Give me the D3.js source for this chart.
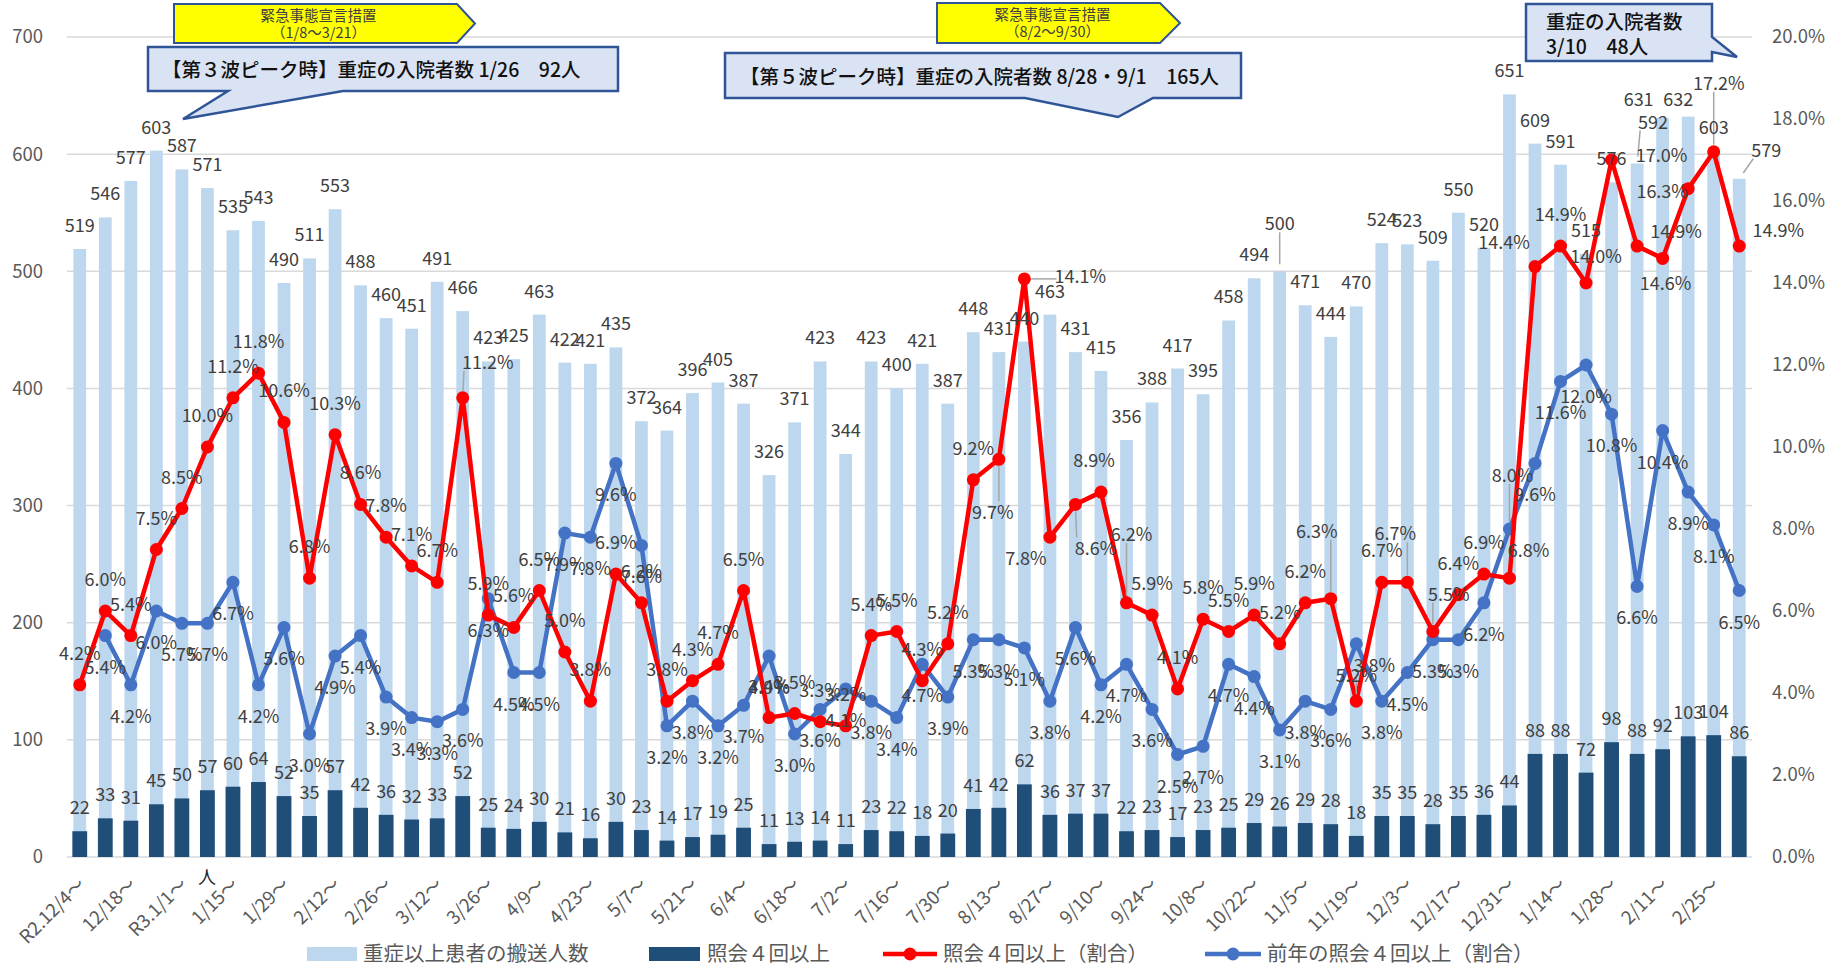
<!DOCTYPE html>
<html>
<head>
<meta charset="utf-8">
<script src="https://cdn.jsdelivr.net/npm/d3@7"></script>
<style>
  body { margin: 0; background: #fff; }
  svg text { font-family: "Noto Sans CJK JP", "Noto Sans", sans-serif; }
</style>
</head>
<body>
<svg id="chart" width="1835" height="967"></svg>
<script>
// weekly categories (R2.12/4 ～ R4.3/4)
const weeks = [
  "R2.12/4～", "12/11～", "12/18～", "12/25～",
  "R3.1/1～", "1/8～", "1/15～", "1/22～", "1/29～", "2/5～", "2/12～", "2/19～", "2/26～", "3/5～",
  "3/12～", "3/19～", "3/26～", "4/2～", "4/9～", "4/16～", "4/23～", "4/30～", "5/7～", "5/14～",
  "5/21～", "5/28～", "6/4～", "6/11～", "6/18～", "6/25～", "7/2～", "7/9～", "7/16～", "7/23～",
  "7/30～", "8/6～", "8/13～", "8/20～", "8/27～", "9/3～", "9/10～", "9/17～", "9/24～", "10/1～",
  "10/8～", "10/15～", "10/22～", "10/29～", "11/5～", "11/12～", "11/19～", "11/26～", "12/3～", "12/10～",
  "12/17～", "12/24～", "12/31～", "1/7～", "1/14～", "1/21～", "1/28～", "2/4～", "2/11～", "2/18～",
  "2/25～", "3/4～"
];

// 重症以上患者の搬送人数
const transported = [
  519, 546, 577, 603, 587, 571, 535, 543, 490, 511,
  553, 488, 460, 451, 491, 466, 423, 425, 463, 422,
  421, 435, 372, 364, 396, 405, 387, 326, 371, 423,
  344, 423, 400, 421, 387, 448, 431, 440, 463, 431,
  415, 356, 388, 417, 395, 458, 494, 500, 471, 444,
  470, 524, 523, 509, 550, 520, 651, 609, 591, 515,
  576, 592, 631, 632, 603, 579
];

// 照会４回以上
const inquiries4 = [
  22, 33, 31, 45, 50, 57, 60, 64, 52, 35,
  57, 42, 36, 32, 33, 52, 25, 24, 30, 21,
  16, 30, 23, 14, 17, 19, 25, 11, 13, 14,
  11, 23, 22, 18, 20, 41, 42, 62, 36, 37,
  37, 22, 23, 17, 23, 25, 29, 26, 29, 28,
  18, 35, 35, 28, 35, 36, 44, 88, 88, 72,
  98, 88, 92, 103, 104, 86
];

// 照会４回以上（割合） %
const ratePct = [
  4.2, 6.0, 5.4, 7.5, 8.5, 10.0, 11.2, 11.8, 10.6, 6.8,
  10.3, 8.6, 7.8, 7.1, 6.7, 11.2, 5.9, 5.6, 6.5, 5.0,
  3.8, 6.9, 6.2, 3.8, 4.3, 4.7, 6.5, 3.4, 3.5, 3.3,
  3.2, 5.4, 5.5, 4.3, 5.2, 9.2, 9.7, 14.1, 7.8, 8.6,
  8.9, 6.2, 5.9, 4.1, 5.8, 5.5, 5.9, 5.2, 6.2, 6.3,
  3.8, 6.7, 6.7, 5.5, 6.4, 6.9, 6.8, 14.4, 14.9, 14.0,
  17.0, 14.9, 14.6, 16.3, 17.2, 14.9
];

// 前年の照会４回以上（割合） %
const prevYearPct = [
  null, 5.4, 4.2, 6.0, 5.7, 5.7, 6.7, 4.2, 5.6, 3.0,
  4.9, 5.4, 3.9, 3.4, 3.3, 3.6, 6.3, 4.5, 4.5, 7.9,
  7.8, 9.6, 7.6, 3.2, 3.8, 3.2, 3.7, 4.9, 3.0, 3.6,
  4.1, 3.8, 3.4, 4.7, 3.9, 5.3, 5.3, 5.1, 3.8, 5.6,
  4.2, 4.7, 3.6, 2.5, 2.7, 4.7, 4.4, 3.1, 3.8, 3.6,
  5.2, 3.8, 4.5, 5.3, 5.3, 6.2, 8.0, 9.6, 11.6, 12.0,
  10.8, 6.6, 10.4, 8.9, 8.1, 6.5
];

const leftTicks = [0, 100, 200, 300, 400, 500, 600, 700];
const rightTicks = [0, 2, 4, 6, 8, 10, 12, 14, 16, 18, 20];

// hand-moved data labels, as in the original: index -> [dx, dy, leader?]
const nudgeTop = { 47: [0, -24, 1], 61: [16, -18, 1], 62: [-24, 5], 63: [-10, 6], 65: [27, -5, 1] };
const nudgeRed = {
  15: [25, -4, 1], 36: [-6, 85, 1], 37: [56, 29, 1], 38: [-24, 53], 39: [20, 76, 1],
  40: [-7, 0], 41: [5, -37, 1], 49: [-14, -36, 1], 50: [18, -4, 1], 52: [-12, -17, 1],
  53: [16, -6, 1], 56: [19, 4], 57: [-31, 7], 59: [10, 5], 60: [50, 27], 61: [39, 17],
  62: [3, 57], 63: [-26, 34], 64: [5, -37, 1], 65: [39, 16]
};
const nudgeBlue = { 56: [3, -85, 1] };

const colors = {
  light: "#BDD7EE",
  dark: "#1F4E79",
  red: "#FF0000",
  blue: "#4472C4",
  grid: "#D9D9D9",
  text: "#595959",
  label: "#404040"
};

const svg = d3.select("#chart");
const plot = { left: 67, right: 1752, top: 37, bottom: 857 };

const x = d3.scaleBand()
  .domain(d3.range(weeks.length))
  .range([plot.left, plot.right])
  .padding(0);

const y = d3.scaleLinear().domain([0, 700]).range([plot.bottom, plot.top]);
const yPct = d3.scaleLinear().domain([0, 20]).range([plot.bottom, plot.top]);
const cx = i => x(i) + x.bandwidth() / 2;

// gridlines
svg.append("g")
  .selectAll("line")
  .data(leftTicks)
  .join("line")
  .attr("x1", plot.left).attr("x2", plot.right)
  .attr("y1", d => y(d)).attr("y2", d => y(d))
  .attr("stroke", colors.grid)
  .attr("stroke-width", 1.5);

const axisFont = g => g.selectAll("text")
  .attr("fill", colors.text)
  .style("font-size", "18.5px")
  .style("font-family", "'Noto Sans CJK JP', 'Noto Sans', sans-serif");

svg.append("g")
  .attr("transform", `translate(${plot.left - 24},0)`)
  .call(d3.axisLeft(y).tickValues(leftTicks).tickSize(0).tickPadding(0))
  .call(g => g.select(".domain").remove())
  .call(axisFont);

svg.append("g")
  .attr("transform", `translate(${plot.right + 20},0)`)
  .call(d3.axisRight(yPct).tickValues(rightTicks).tickSize(0).tickPadding(0)
    .tickFormat(d => d.toFixed(1) + "%"))
  .call(g => g.select(".domain").remove())
  .call(axisFont);

// x tick labels, every second week, rotated
svg.append("g")
  .attr("transform", `translate(0,${plot.bottom})`)
  .call(d3.axisBottom(x)
    .tickValues(d3.range(0, weeks.length, 2))
    .tickSize(0)
    .tickFormat(i => weeks[i]))
  .call(g => g.select(".domain").remove())
  .call(axisFont)
  .call(g => g.selectAll("text")
    .attr("text-anchor", "end")
    .attr("dy", "0.35em")
    .attr("y", 0)
    .attr("transform", "translate(2,24) rotate(-45)"));

// stray character that sits under the axis in the original
svg.append("text")
  .attr("x", 207).attr("y", 884)
  .attr("text-anchor", "middle")
  .attr("fill", "#262626")
  .style("font-size", "18px")
  .text("人");

// bars
const lightW = x.bandwidth() * 0.5;
const darkW = x.bandwidth() * 0.58;

svg.append("g").selectAll("rect")
  .data(transported)
  .join("rect")
  .attr("x", (d, i) => cx(i) - lightW / 2)
  .attr("width", lightW)
  .attr("y", d => y(d))
  .attr("height", d => y(0) - y(d))
  .attr("fill", colors.light);

svg.append("g").selectAll("rect")
  .data(inquiries4)
  .join("rect")
  .attr("x", (d, i) => cx(i) - darkW / 2)
  .attr("width", darkW)
  .attr("y", d => y(d))
  .attr("height", d => y(0) - y(d))
  .attr("fill", colors.dark);

// lines
const lineRed = d3.line().x((d, i) => cx(i)).y(d => yPct(d));
const lineBlue = d3.line()
  .defined(d => d !== null)
  .x((d, i) => cx(i)).y(d => yPct(d));

const bluePts = prevYearPct.map((v, i) => [v, i]).filter(d => d[0] !== null);

svg.append("path")
  .datum(prevYearPct)
  .attr("d", lineBlue)
  .attr("fill", "none")
  .attr("stroke", colors.blue)
  .attr("stroke-width", 4.5)
  .attr("stroke-linejoin", "round");

svg.append("g").selectAll("circle")
  .data(bluePts)
  .join("circle")
  .attr("cx", d => cx(d[1]))
  .attr("cy", d => yPct(d[0]))
  .attr("r", 6.5)
  .attr("fill", colors.blue);

svg.append("path")
  .datum(ratePct)
  .attr("d", lineRed)
  .attr("fill", "none")
  .attr("stroke", colors.red)
  .attr("stroke-width", 4.5)
  .attr("stroke-linejoin", "round");

svg.append("g").selectAll("circle")
  .data(ratePct)
  .join("circle")
  .attr("cx", (d, i) => cx(i))
  .attr("cy", d => yPct(d))
  .attr("r", 6.5)
  .attr("fill", colors.red);

// data labels
const leaderG = svg.append("g");
const labels = svg.append("g")
  .attr("fill", colors.label)
  .attr("text-anchor", "middle")
  .style("font-size", "18px");

const leaders = [];
function addLabels(items, nudge) {
  // items: {i, px, py, lx, ly, text}
  items.forEach(it => {
    const n = nudge[it.i] || [0, 0, 0];
    const t = labels.append("text")
      .attr("x", it.lx + n[0])
      .attr("y", it.ly + n[1])
      .text(it.text);
    if (n[2]) leaders.push([t, it.px, it.py]);
  });
}

addLabels(transported.map((d, i) => ({
  i, px: cx(i), py: y(d), lx: cx(i), ly: y(d) - 17, text: d
})), nudgeTop);

addLabels(inquiries4.map((d, i) => ({
  i, px: cx(i), py: y(d), lx: cx(i), ly: y(d) - 17, text: d
})), {});

addLabels(ratePct.map((d, i) => ({
  i, px: cx(i), py: yPct(d), lx: cx(i), ly: yPct(d) - 25, text: d.toFixed(1) + "%"
})), nudgeRed);

addLabels(bluePts.map(([d, i]) => ({
  i, px: cx(i), py: yPct(d), lx: cx(i), ly: yPct(d) + 38, text: d.toFixed(1) + "%"
})), nudgeBlue);

// gray leader lines from the mark to the nearest edge of its moved label
leaders.forEach(([t, px, py]) => {
  const b = t.node().getBBox();
  const qx = Math.max(b.x + 2, Math.min(px, b.x + b.width - 2));
  const qy = Math.max(b.y + 3, Math.min(py, b.y + b.height - 3));
  const dx = qx - px, dy = qy - py;
  const len = Math.hypot(dx, dy);
  if (len < 10) return;
  leaderG.append("line")
    .attr("x1", px + dx / len * 7).attr("y1", py + dy / len * 7)
    .attr("x2", qx).attr("y2", qy)
    .attr("stroke", "#A6A6A6")
    .attr("stroke-width", 1.5);
});

// annotations
const ann = svg.append("g");

function yellowArrow(x0, x1, tip, y0, y1, lines) {
  ann.append("path")
    .attr("d", `M${x0},${y0}H${x1}L${tip},${(y0 + y1) / 2}L${x1},${y1}H${x0}Z`)
    .attr("fill", "#FFFF00")
    .attr("stroke", "#2F5597")
    .attr("stroke-width", 2);
  const mid = (x0 + tip) / 2 - 6;
  lines.forEach((s, k) => ann.append("text")
    .attr("x", mid).attr("y", y0 + 17 + k * 17)
    .attr("text-anchor", "middle")
    .attr("fill", "#404040")
    .style("font-size", "14.5px")
    .text(s));
}

yellowArrow(174, 457, 475, 4, 43, ["緊急事態宣言措置", "（1/8～3/21）"]);
yellowArrow(937, 1160, 1180, 3, 43, ["緊急事態宣言措置", "（8/2～9/30）"]);

const calloutFill = "#DAE3F3";
const calloutStroke = "#2F5597";

function callout(d, lines, tx, ty) {
  ann.append("path")
    .attr("d", d)
    .attr("fill", calloutFill)
    .attr("stroke", calloutStroke)
    .attr("stroke-width", 2.5);
  lines.forEach((s, k) => ann.append("text")
    .attr("x", tx).attr("y", ty + k * 25)
    .attr("fill", "#111")
    .style("font-size", "19.5px")
    .style("font-weight", "500")
    .text(s));
}

callout("M148,47H618V91H343L183,119L228,91H148Z",
  ["【第３波ピーク時】重症の入院者数 1/26　92人"], 162, 77);
callout("M725,53H1241V98H1153L1118,117L1025,98H725Z",
  ["【第５波ピーク時】重症の入院者数 8/28・9/1　165人"], 740, 84);
callout("M1526,4H1712V37L1737,57L1712,52V61H1526Z",
  ["重症の入院者数", "3/10　48人"], 1546, 29);

// legend
const legend = svg.append("g").style("font-size", "20.5px").attr("fill", colors.text);
const ly = 954;

legend.append("rect").attr("x", 307).attr("y", ly - 7).attr("width", 50).attr("height", 14).attr("fill", colors.light);
legend.append("text").attr("x", 363).attr("y", ly).attr("dy", "0.35em").text("重症以上患者の搬送人数");

legend.append("rect").attr("x", 649).attr("y", ly - 7).attr("width", 51).attr("height", 14).attr("fill", colors.dark);
legend.append("text").attr("x", 707).attr("y", ly).attr("dy", "0.35em").text("照会４回以上");

legend.append("line").attr("x1", 883).attr("x2", 937).attr("y1", ly).attr("y2", ly)
  .attr("stroke", colors.red).attr("stroke-width", 4.5);
legend.append("circle").attr("cx", 910).attr("cy", ly).attr("r", 6.5).attr("fill", colors.red);
legend.append("text").attr("x", 943).attr("y", ly).attr("dy", "0.35em").text("照会４回以上（割合）");

legend.append("line").attr("x1", 1205).attr("x2", 1261).attr("y1", ly).attr("y2", ly)
  .attr("stroke", colors.blue).attr("stroke-width", 4.5);
legend.append("circle").attr("cx", 1233).attr("cy", ly).attr("r", 6.5).attr("fill", colors.blue);
legend.append("text").attr("x", 1267).attr("y", ly).attr("dy", "0.35em").text("前年の照会４回以上（割合）");
</script>
</body>
</html>
